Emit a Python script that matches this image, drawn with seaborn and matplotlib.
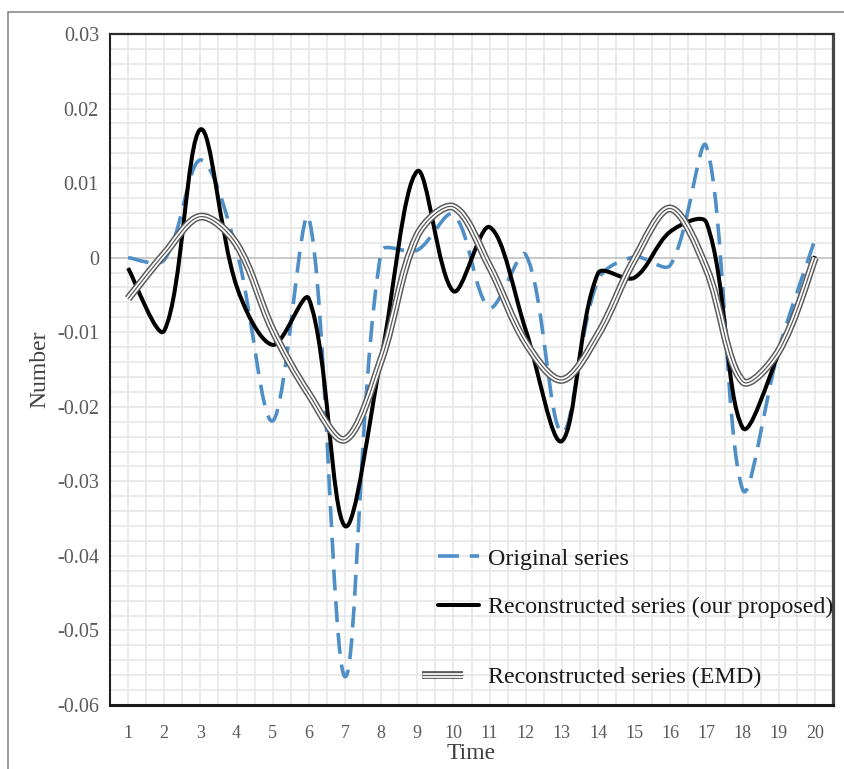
import numpy as np
import pandas as pd
import matplotlib
matplotlib.use("Agg")
import matplotlib.pyplot as plt
import seaborn as sns
from matplotlib.path import Path
from matplotlib.patches import PathPatch, Rectangle
from matplotlib.lines import Line2D
import matplotlib.patheffects as pe
from matplotlib.ticker import MultipleLocator, FixedLocator, FixedFormatter

# ---------------- data ----------------
time = list(range(1, 21))
original = [0.0, -0.0003, 0.0131, 0.0010, -0.0219, 0.0053, -0.0562, 0.0008, 0.0010, 0.0058,
            -0.0067, 0.0004, -0.0235, -0.0030, 0.0001, -0.0010, 0.0149, -0.0311, -0.0123, 0.0024]
proposed = [-0.0014, -0.0098, 0.0172, -0.0038, -0.0117, -0.0055, -0.0360, -0.0135, 0.0116, -0.0045,
            0.0041, -0.0097, -0.0246, -0.0021, -0.0027, 0.0035, 0.0047, -0.0228, -0.0128, 0.0002]
emd = [-0.0055, 0.0005, 0.0055, 0.0018, -0.0097, -0.0183, -0.0244, -0.0137, 0.0030, 0.0068,
       -0.0012, -0.0114, -0.0164, -0.0103, -0.0003, 0.0066, -0.0015, -0.0166, -0.0125, 0.0000]
series_names = ["Original series", "Reconstructed series (our proposed)", "Reconstructed series (EMD)"]
y_ticks = [0.03, 0.02, 0.01, 0.0, -0.01, -0.02, -0.03, -0.04, -0.05, -0.06]
y_tick_labels = ["0.03", "0.02", "0.01", "0", "-0.01", "-0.02", "-0.03", "-0.04", "-0.05", "-0.06"]
x_tick_labels = [str(t) for t in time]

# ---------------- style ----------------
sns.set_theme(style="white")
plt.rcParams['font.family'] = ['Liberation Serif', 'DejaVu Serif']

W, H = 844, 769
fig = plt.figure(figsize=(W / 100, H / 100), dpi=100)
ax = fig.add_axes([110 / W, 1 - 705 / H, (833 - 110) / W, (705 - 34) / H])
ax.set_xlim(0.5, 20.5)
ax.set_ylim(-0.06, 0.03)

df = pd.DataFrame({
    "Time": time * 3,
    "Number": original + proposed + emd,
    "series": [series_names[0]] * 20 + [series_names[1]] * 20 + [series_names[2]] * 20,
})
blue = "#4e8fc7"
palette = {series_names[0]: blue, series_names[1]: "#000000", series_names[2]: "#5e5e5e"}
sns.lineplot(data=df, x="Time", y="Number", hue="series", hue_order=series_names,
             palette=palette, legend=False, ax=ax, sort=True)


def smooth_path(ax, x, y):
    """Excel-like smoothed line: cubic Bezier segments through the data points,
    tangent handles weighted by on-screen segment lengths."""
    x = np.asarray(x, float)
    y = np.asarray(y, float)
    n = len(x)
    P = np.column_stack([x, y])
    D = ax.transData.transform(P)          # display coords, used only for lengths
    L = np.hypot(*np.diff(D, axis=0).T)    # segment lengths in pixels
    m = np.empty_like(P)
    m[1:-1] = (P[2:] - P[:-2]) / 2
    m[0] = (P[1] - P[0]) / 2
    m[-1] = (P[-1] - P[-2]) / 2
    verts = [tuple(P[0])]
    codes = [Path.MOVETO]
    for i in range(n - 1):
        sa = 2 * L[i] / (L[i - 1] + L[i]) if i > 0 else 1.0
        sb = 2 * L[i] / (L[i] + L[i + 1]) if i + 1 < n - 1 else 1.0
        c1 = P[i] + m[i] / 3 * sa
        c2 = P[i + 1] - m[i + 1] / 3 * sb
        verts += [tuple(c1), tuple(c2), tuple(P[i + 1])]
        codes += [Path.CURVE4] * 3
    return Path(verts, codes)


emd_effects = [pe.Stroke(linewidth=5.6, foreground="#5a5a5a"),
               pe.Stroke(linewidth=3.4, foreground="white"),
               pe.Normal()]
dash = (0, (5.8, 3.0))
styles = [
    dict(edgecolor=blue, lw=2.6, linestyle=dash, zorder=3),
    dict(edgecolor="black", lw=2.9, linestyle="-", zorder=4),
    dict(edgecolor="#5a5a5a", lw=0.9, linestyle="-", zorder=5, path_effects=emd_effects),
]
lines = list(ax.lines)
for line, st in zip(lines, styles):
    xd, yd = line.get_xdata(), line.get_ydata()
    patch = PathPatch(smooth_path(ax, xd, yd), fill=False, capstyle="butt", joinstyle="round", **st)
    ax.add_patch(patch)
    line.remove()

# ---------------- axes ----------------
ax.set_xlim(0.5, 20.5)
ax.set_ylim(-0.06, 0.03)
ax.xaxis.set_major_locator(FixedLocator(time))
ax.xaxis.set_major_formatter(FixedFormatter(x_tick_labels))
ax.yaxis.set_major_locator(FixedLocator(y_ticks))
ax.yaxis.set_major_formatter(FixedFormatter(y_tick_labels))
ax.xaxis.set_minor_locator(MultipleLocator(0.5))
ax.yaxis.set_minor_locator(MultipleLocator(0.002))
ax.set_axisbelow(True)
ax.grid(which="both", color="#e6e6e6", lw=1.1)
ax.axhline(0, color="#c4c4c4", lw=1.2, zorder=1.5)

ax.tick_params(which="minor", length=0)
ax.tick_params(axis="both", which="major", direction="in", length=13, width=1.2, color="#2a2a2a",
               labelcolor="#595959")
ax.tick_params(axis="y", labelsize=14.5, pad=8)
ax.tick_params(axis="x", labelsize=13, pad=14.5)

for side, lw, col in [("left", 1.5, "#222222"), ("bottom", 2.2, "#1a1a1a"),
                      ("top", 1.6, "#2a2a2a"), ("right", 2.3, "#474747")]:
    ax.spines[side].set_visible(True)
    ax.spines[side].set_linewidth(lw)
    ax.spines[side].set_color(col)

ax.set_xlabel("Time", fontsize=17, color="#404040", labelpad=0.5)
ax.set_ylabel("Number", fontsize=17, color="#404040", labelpad=4.4)

# ---------------- legends ----------------
h_orig = Line2D([], [], color=blue, lw=2.6, linestyle=dash)
h_prop = Line2D([], [], color="black", lw=2.9)
h_emd = Line2D([], [], color="#5a5a5a", lw=0.9, solid_capstyle="butt", path_effects=emd_effects)

leg1 = ax.legend([h_orig, h_prop], series_names[:2], loc="center left",
                 bbox_to_anchor=(438 / W, 1 - 583 / H), bbox_transform=fig.transFigure,
                 frameon=False, fontsize=17.3, handlelength=1.7, handletextpad=0.38,
                 labelspacing=1.1, borderpad=0, borderaxespad=0, labelcolor="#1a1a1a")
ax.add_artist(leg1)
ax.legend([h_emd], series_names[2:], loc="center left",
          bbox_to_anchor=(422 / W, 1 - 677 / H), bbox_transform=fig.transFigure,
          frameon=False, fontsize=17.3, handlelength=1.7, handletextpad=1.03,
          borderpad=0, borderaxespad=0, labelcolor="#1a1a1a")

# outer frame
fig.patches.append(Rectangle((8 / W, -0.1), 1.2, 1.1 - 12 / H, transform=fig.transFigure,
                             fill=False, edgecolor="#808080", lw=1.1))

fig.savefig("out.png", dpi=100)
